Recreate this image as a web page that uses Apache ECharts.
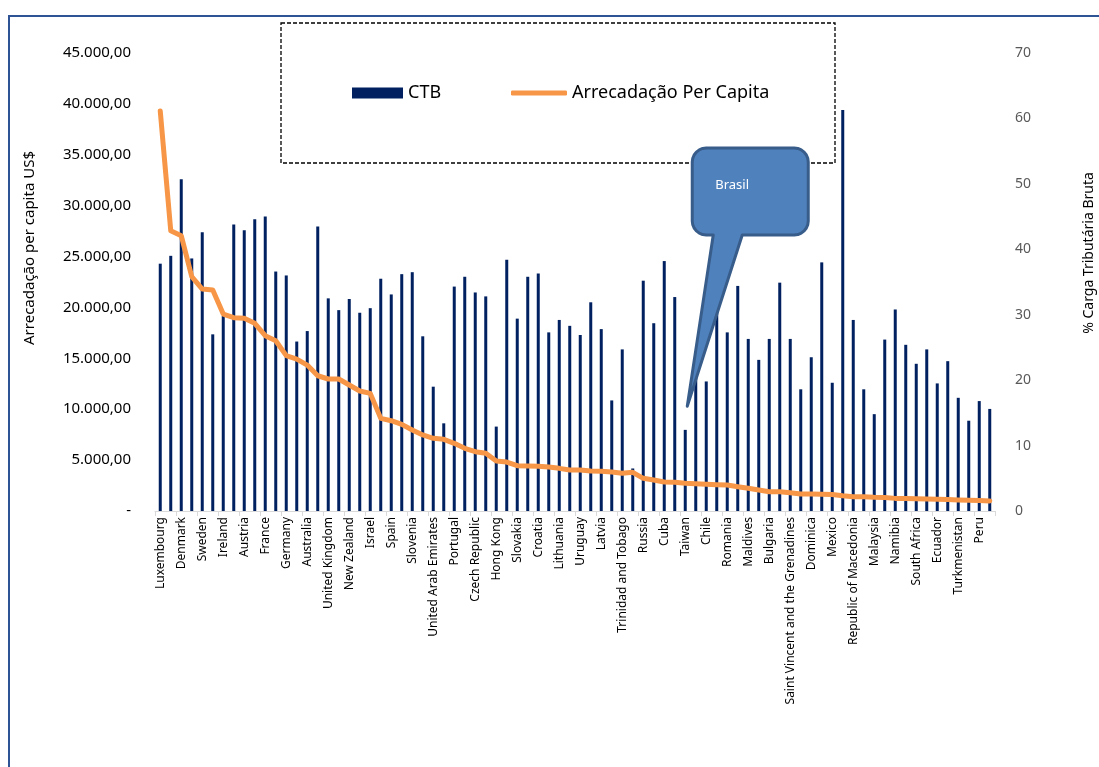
<!DOCTYPE html>
<html>
<head>
<meta charset="utf-8">
<script src="https://cdn.jsdelivr.net/npm/echarts@6/dist/echarts.min.js"></script>
<style>
html,body{margin:0;padding:0;background:#fff;}
#chart{width:1099px;height:767px;}
</style>
</head>
<body>
<div id="chart"></div>
<script>
var countries = [
  'Luxembourg','Norway','Denmark','Switzerland','Sweden','Finland','Ireland','Netherlands','Austria','Belgium',
  'France','Iceland','Germany','Canada','Australia','Italy','United Kingdom','Japan','New Zealand','Singapore',
  'Israel','Kuwait','Spain','Cyprus','Slovenia','Malta','United Arab Emirates','Greece','Portugal','Estonia',
  'Czech Republic','Korea','Hong Kong','Hungary','Slovakia','Argentina','Croatia','Poland','Lithuania','Barbados',
  'Uruguay','Bahamas','Latvia','Seychelles','Trinidad and Tobago','Oman','Russia','Turkey','Cuba','Venezuela',
  'Taiwan','Brasil','Chile','Belarus','Romania','Serbia','Maldives','Montenegro','Bulgaria','Costa Rica',
  'Saint Vincent and the Grenadines','Panama','Dominica','Bosnia and Herzegovina','Mexico','Lesotho','Republic of Macedonia','Botswana','Malaysia','Colombia',
  'Namibia','Kazakhstan','South Africa','Mauritius','Ecuador','Jamaica','Turkmenistan','Belize','Peru','Tunisia'
];

// % Carga Tributária Bruta (right axis)
var ctb = [
  37.8,39.0,50.7,38.6,42.6,27.0,29.8,43.8,42.9,44.6,
  45.0,36.6,36.0,25.9,27.5,43.5,32.5,30.7,32.4,30.3,
  31.0,35.5,33.1,36.2,36.5,26.7,19.0,13.4,34.3,35.8,
  33.4,32.8,12.9,38.4,29.4,35.8,36.3,27.3,29.2,28.3,
  26.9,31.9,27.8,16.9,24.7,6.5,35.2,28.7,38.2,32.7,
  12.4,22.0,19.8,33.0,27.3,34.4,26.3,23.1,26.3,34.9,
  26.3,18.6,23.5,38.0,19.6,61.3,29.2,18.6,14.8,26.2,
  30.8,25.4,22.5,24.7,19.5,22.9,17.3,13.8,16.8,15.6
];

// Arrecadação per capita US$ (left axis)
var perCapita = [
  39300,27540,27050,23020,21810,21710,19350,18990,18930,18440,
  17220,16730,15260,14930,14340,13290,12970,12970,12380,11790,
  11560,9100,8870,8510,7960,7470,7140,7040,6650,6160,
  5830,5670,4910,4810,4450,4420,4390,4320,4190,4030,
  4030,3930,3900,3830,3700,3800,3210,3050,2850,2820,
  2720,2680,2620,2580,2550,2390,2230,2060,1900,1900,
  1800,1670,1670,1640,1620,1500,1410,1400,1340,1320,
  1240,1220,1200,1180,1150,1120,1080,1050,1020,980
];

var leftTicks = {min: 0, max: 45000, interval: 5000};
var rightTicks = {min: 0, max: 70, interval: 10};
var seriesNames = ['CTB', 'Arrecadação Per Capita'];
var leftTitle = 'Arrecadação per capita US$';
var rightTitle = '% Carga Tributária Bruta';
var calloutLabel = 'Brasil';

var FONT = 'Noto Sans';

function fmtBR(v) {
  if (v === 0) return '-';
  var s = v.toFixed(2).split('.');
  var intPart = s[0].replace(/\B(?=(\d{3})+(?!\d))/g, '.');
  return intPart + ',' + s[1];
}

var chart = echarts.init(document.getElementById('chart'), null, {renderer: 'canvas'});

var option = {
  backgroundColor: '#ffffff',
  animation: false,
  textStyle: {fontFamily: FONT},
  grid: {left: 155, right: 104, top: 53, bottom: 256, containLabel: false, outerBoundsMode: 'none'},
  legend: [
    {
      data: [seriesNames[0]], left: 352, top: 84, padding: 0,
      itemWidth: 51, itemHeight: 11, icon: 'rect',
      textStyle: {fontSize: 18, color: '#000', fontFamily: FONT}
    },
    {
      data: [seriesNames[1]], left: 511, top: 84, padding: 0,
      itemWidth: 56, itemHeight: 5, icon: 'roundRect',
      textStyle: {fontSize: 18, color: '#000', fontFamily: FONT}
    }
  ],
  xAxis: {
    type: 'category',
    data: countries,
    boundaryGap: true,
    axisLine: {show: true, lineStyle: {color: '#d9d9d9', width: 1}},
    axisTick: {show: true, length: 5, lineStyle: {color: '#d9d9d9'}},
    axisLabel: {
      interval: 1, rotate: 90, fontSize: 12, color: '#000', margin: 6, fontFamily: FONT
    },
    splitLine: {show: false}
  },
  yAxis: [
    {
      type: 'value',
      min: leftTicks.min, max: leftTicks.max, interval: leftTicks.interval,
      axisLine: {show: false}, axisTick: {show: false},
      splitLine: {show: false},
      axisLabel: {fontSize: 15, color: '#000', margin: 24, formatter: fmtBR, fontFamily: FONT}
    },
    {
      type: 'value',
      position: 'right',
      min: rightTicks.min, max: rightTicks.max, interval: rightTicks.interval,
      axisLine: {show: false}, axisTick: {show: false},
      splitLine: {show: false},
      axisLabel: {fontSize: 14, color: '#595959', margin: 20, fontFamily: FONT}
    }
  ],
  series: [
    {
      name: seriesNames[0],
      type: 'bar',
      yAxisIndex: 1,
      data: ctb,
      barWidth: 3,
      itemStyle: {color: '#002060'},
      z: 2
    },
    {
      name: seriesNames[1],
      type: 'line',
      yAxisIndex: 0,
      data: perCapita,
      showSymbol: false,
      symbol: 'none',
      lineStyle: {color: '#F79646', width: 5, cap: 'round', join: 'round'},
      itemStyle: {color: '#F79646'},
      z: 3
    }
  ]
};
chart.setOption(option);

// annotation: callout pointing at Brasil
var bx = chart.convertToPixel({xAxisIndex: 0}, calloutLabel);
var tipX = bx - 8.5;
var tipY = chart.convertToPixel({yAxisIndex: 1}, 16);
var rx = tipX + 5, ry = 148, rw = 116, rh = 87, r = 14;

function corner(cx, cy, a0, pts) {
  for (var k = 0; k <= 6; k++) {
    var a = a0 + (Math.PI / 2) * k / 6;
    pts.push([cx + r * Math.cos(a), cy + r * Math.sin(a)]);
  }
}
var pts = [];
corner(rx + rw - r, ry + r, -Math.PI / 2, pts);      // top-right
corner(rx + rw - r, ry + rh - r, 0, pts);            // bottom-right
pts.push([rx + 50, ry + rh]);
pts.push([tipX, tipY]);
pts.push([rx + 21, ry + rh]);
corner(rx + r, ry + rh - r, Math.PI / 2, pts);       // bottom-left
corner(rx + r, ry + r, Math.PI, pts);                // top-left

chart.setOption({
  graphic: [
    {
      type: 'rect', x: 9, y: 16, z: 0, silent: true,
      shape: {x: 0, y: 0, width: 1200, height: 900},
      style: {fill: 'none', stroke: '#2F5496', lineWidth: 2}
    },
    {
      type: 'rect', z: 1, silent: true, x: 281, y: 23,
      shape: {x: 0, y: 0, width: 554, height: 140},
      style: {fill: 'none', stroke: '#000', lineWidth: 1.3, lineDash: [4, 2]}
    },
    {
      type: 'polygon', z: 10, silent: true,
      shape: {points: pts},
      style: {fill: '#4F81BD', stroke: '#385D8A', lineWidth: 3, lineJoin: 'round'}
    },
    {
      type: 'text', z: 11, silent: true, x: rx + 23, y: ry + 37,
      style: {text: calloutLabel, fill: '#ffffff', fontSize: 13, fontFamily: FONT, verticalAlign: 'middle', textVerticalAlign: 'middle'}
    },
    {
      type: 'text', z: 5, silent: true, x: 30, y: 248, rotation: Math.PI / 2,
      style: {text: leftTitle, fill: '#000', fontSize: 15, fontFamily: FONT,
              align: 'center', verticalAlign: 'middle', textAlign: 'center', textVerticalAlign: 'middle'}
    },
    {
      type: 'text', z: 5, silent: true, x: 1089, y: 253, rotation: Math.PI / 2,
      style: {text: rightTitle, fill: '#000', fontSize: 14, fontFamily: FONT,
              align: 'center', verticalAlign: 'middle', textAlign: 'center', textVerticalAlign: 'middle'}
    }
  ]
});
</script>
</body>
</html>
